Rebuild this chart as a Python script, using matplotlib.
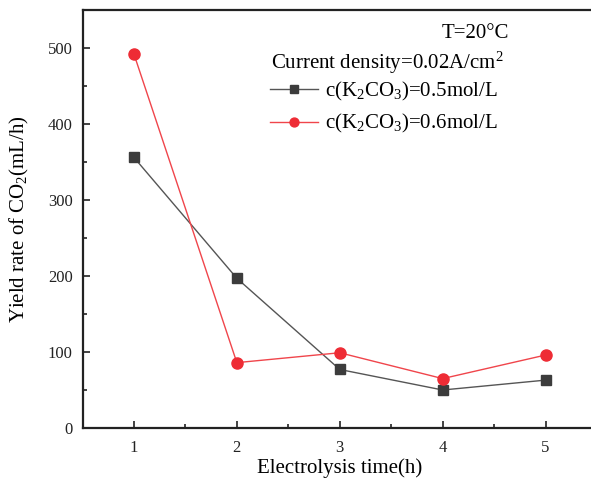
import numpy as np
import matplotlib
matplotlib.use('Agg')
import matplotlib.pyplot as plt
from matplotlib.ticker import MultipleLocator

plt.rcParams['font.family'] = ['Liberation Serif', 'DejaVu Serif']
plt.rcParams['mathtext.fontset'] = 'custom'
plt.rcParams['mathtext.rm'] = 'Liberation Serif'
plt.rcParams['mathtext.it'] = 'Liberation Serif:italic'
plt.rcParams['mathtext.bf'] = 'Liberation Serif:bold'

# data
time_h = [1, 2, 3, 4, 5]
rate_05 = [356, 197, 77, 50, 63]
rate_06 = [492, 86, 99, 65, 96]
label_05 = r'c(K$_2$CO$_3$)=0.5mol/L'
label_06 = r'c(K$_2$CO$_3$)=0.6mol/L'

fig = plt.figure(figsize=(5.91, 4.84), dpi=100)
# axes run a bit past the right edge, as in the reference crop
ax = fig.add_axes([82.5 / 591, 56 / 484, (597 - 82.5) / 591, (428 - 10) / 484])

ax.plot(time_h, rate_05, color='#555555', lw=1.0, marker='s', ms=7,
        mfc='#3c3c3c', mec='#3c3c3c', label=label_05)
ax.plot(time_h, rate_06, color='#f0454b', lw=1.0, marker='o', ms=8,
        mfc='#ee2c35', mec='#ee2c35', label=label_06)

ax.set_xlim(0.5, 5.5)
ax.set_ylim(0, 550)
ax.xaxis.set_major_locator(MultipleLocator(1))
ax.xaxis.set_minor_locator(MultipleLocator(0.5))
ax.yaxis.set_major_locator(MultipleLocator(100))
ax.yaxis.set_minor_locator(MultipleLocator(50))
ax.set_yticks([0, 100, 200, 300, 400, 500])

ax.tick_params(which='both', direction='in', top=False, right=False,
               width=1.2, labelsize=12, colors='#222222')
ax.tick_params(which='major', length=5)
ax.tick_params(which='minor', length=3)
ax.tick_params(axis='x', pad=9)
ax.tick_params(axis='y', pad=7)
for s in ax.spines.values():
    s.set_linewidth(1.6)
    s.set_color('#222222')

ax.set_xlabel('Electrolysis time(h)', fontsize=15)
ax.set_ylabel(r'Yield rate of CO$_2$(mL/h)', fontsize=15)
ax.yaxis.set_label_coords(-0.1, 0.5)
ax.xaxis.set_label_coords(0.5, -0.072)

fig.text(509 / 591, 1 - 34 / 484, 'T=20\u00b0C', fontsize=15,
         ha='right', va='center')
fig.text(271 / 591, 1 - 63 / 484, r'Current density=0.02A/cm$^2$', fontsize=15,
         ha='left', va='center')

fig.legend(loc='upper left', bbox_to_anchor=(270 / 591, 1 - 80 / 484),
           frameon=False, fontsize=15, handlelength=2.3, handletextpad=0.35,
           labelspacing=0.45, borderpad=0, borderaxespad=0, markerscale=0.8)

fig.savefig('out.png', dpi=100)
